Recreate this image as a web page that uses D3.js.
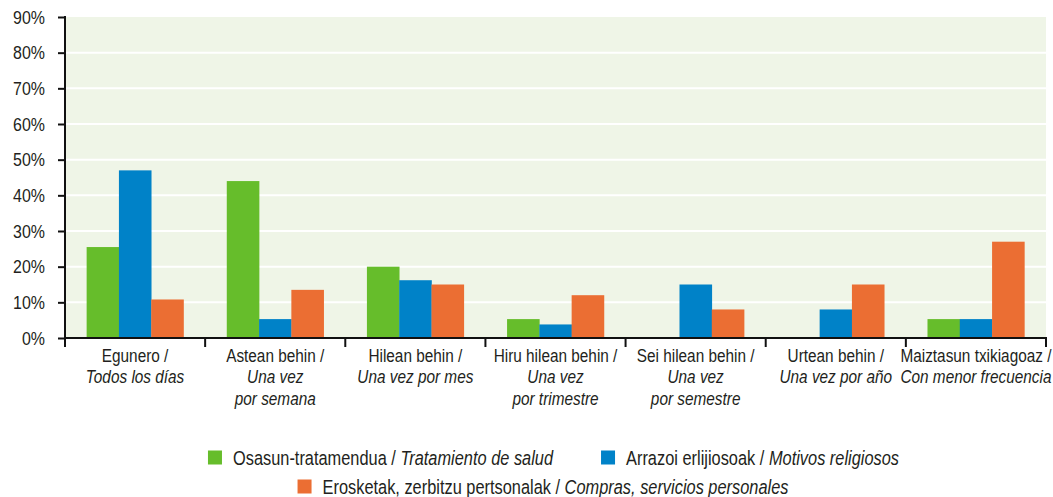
<!DOCTYPE html>
<html>
<head>
<meta charset="utf-8">
<script src="https://cdn.jsdelivr.net/npm/d3@7"></script>
<style>
  html, body { margin: 0; padding: 0; background: #fff; }
  svg { display: block; }
  text { font-family: "Liberation Sans", Arial, sans-serif; fill: #231f20; }
</style>
</head>
<body>
<svg id="chart" width="1053" height="497"></svg>
<script>
// Frequency categories: Basque line, then Spanish (italic) lines
const catEu = ["Egunero /", "Astean behin /", "Hilean behin /", "Hiru hilean behin /",
               "Sei hilean behin /", "Urtean behin /", "Maiztasun txikiagoaz /"];
const catEs = [["Todos los días"], ["Una vez", "por semana"], ["Una vez por mes"],
               ["Una vez", "por trimestre"], ["Una vez", "por semestre"],
               ["Una vez por año"], ["Con menor frecuencia"]];

// Series (percent of respondents)
const seriesKeys = ["salud", "religiosos", "compras"];
const seriesEu = ["Osasun-tratamendua / ", "Arrazoi erlijiosoak / ", "Erosketak, zerbitzu pertsonalak / "];
const seriesEs = ["Tratamiento de salud", "Motivos religiosos", "Compras, servicios personales"];
const seriesColors = ["#66bd2b", "#0082c8", "#eb6e33"];

const salud      = [25.5, 44, 20, 5.3, 0, 0, 5.3];
const religiosos = [47, 5.3, 16.2, 3.8, 15, 8, 5.3];
const compras    = [10.8, 13.5, 15, 12, 8, 15, 27];

const yTicks = [0, 10, 20, 30, 40, 50, 60, 70, 80, 90];

const seriesValues = [salud, religiosos, compras];

// narrow look: regular sans squeezed horizontally
const SX = 0.84;
const FS_TICK = 19, FS_CAT = 18.3, FS_LEG = 19.5;

const svg = d3.select("#chart");
const plotLeft = 65, plotRight = 1046, plotTop = 17, plotBottom = 338;

const x0 = d3.scaleBand().domain(d3.range(catEu.length)).range([plotLeft, plotRight]).padding(0);
const x1 = d3.scaleBand().domain(seriesKeys).range([0, x0.bandwidth()])
  .paddingInner(0).paddingOuter(0.67);
const y = d3.scaleLinear().domain([0, 90]).range([plotBottom, plotTop]);

// plot background
svg.append("rect")
  .attr("x", plotLeft).attr("y", y(90))
  .attr("width", plotRight - plotLeft).attr("height", y(0) - y(90))
  .attr("fill", "#eff5e7");

// white gridlines
svg.append("g").selectAll("line")
  .data(yTicks.filter(d => d > 0 && d < 90))
  .join("line")
  .attr("x1", plotLeft).attr("x2", plotRight)
  .attr("y1", d => y(d)).attr("y2", d => y(d))
  .attr("stroke", "#fff").attr("stroke-width", 2);

// bars
const groups = svg.append("g").selectAll("g")
  .data(d3.range(catEu.length))
  .join("g")
  .attr("transform", i => `translate(${x0(i)},0)`);

groups.selectAll("rect")
  .data(i => seriesKeys.map((k, s) => ({ k, s, v: seriesValues[s][i] })))
  .join("rect")
  .attr("x", d => x1(d.k))
  .attr("width", x1.bandwidth() + 0.3)
  .attr("y", d => y(d.v))
  .attr("height", d => y(0) - y(d.v))
  .attr("fill", d => seriesColors[d.s]);

// y axis
const yAxis = d3.axisLeft(y).tickValues(yTicks).tickFormat(d => d + "%")
  .tickSize(7).tickSizeOuter(0).tickPadding(13);
const gy = svg.append("g").attr("transform", `translate(${plotLeft},0)`).call(yAxis);
gy.attr("font-family", null).attr("font-size", null);
gy.select(".domain").remove();
gy.selectAll(".tick line").attr("stroke", "#111").attr("stroke-width", 2);
gy.selectAll(".tick text")
  .attr("font-size", FS_TICK).attr("fill", "#231f20")
  .attr("x", 0).attr("transform", `translate(-20,0) scale(${SX},1)`);
svg.append("line")
  .attr("x1", plotLeft).attr("x2", plotLeft).attr("y1", y(90) - 1).attr("y2", plotBottom + 9)
  .attr("stroke", "#111").attr("stroke-width", 2);

// x axis line and category boundary ticks
svg.append("line")
  .attr("x1", plotLeft).attr("x2", plotRight + 1).attr("y1", y(0)).attr("y2", y(0))
  .attr("stroke", "#111").attr("stroke-width", 2);
const bounds = x0.domain().map(i => x0(i)).concat([plotRight]).slice(1);
svg.append("g").selectAll("line").data(bounds).join("line")
  .attr("x1", d => d).attr("x2", d => d)
  .attr("y1", y(0)).attr("y2", y(0) + 9)
  .attr("stroke", "#111").attr("stroke-width", 2);

// category labels
const labels = svg.append("g").selectAll("text")
  .data(d3.range(catEu.length))
  .join("text")
  .attr("text-anchor", "middle")
  .attr("font-size", FS_CAT)
  .attr("transform", i => `translate(${x0(i) + x0.bandwidth() / 2},362) scale(${SX},1)`);
labels.append("tspan").attr("x", 0).attr("y", 0).text(i => catEu[i]);
labels.each(function (i) {
  const t = d3.select(this);
  catEs[i].forEach((line, j) => {
    t.append("tspan").attr("x", 0).attr("y", 21.5 * (j + 1))
      .attr("font-style", "italic").text(line);
  });
});

// legend
const legendRows = [[0, 1], [2]];
const rowY = [457.5, 486.5];
const rowCenter = [553.5, 543];
legendRows.forEach((row, r) => {
  const g = svg.append("g");
  let xPos = 0;
  row.forEach((s, idx) => {
    if (idx > 0) xPos += 48;
    const item = g.append("g").attr("transform", `translate(${xPos},0)`);
    item.append("rect").attr("x", 0).attr("y", rowY[r] - 7)
      .attr("width", 14).attr("height", 14).attr("fill", seriesColors[s]);
    const t = item.append("text")
      .attr("transform", `translate(25,${rowY[r] + 7}) scale(${SX},1)`)
      .attr("font-size", FS_LEG);
    t.append("tspan").text(seriesEu[s]);
    t.append("tspan").attr("font-style", "italic").text(seriesEs[s]);
    xPos += 25 + t.node().getComputedTextLength() * SX;
  });
  g.attr("transform", `translate(${rowCenter[r] - xPos / 2},0)`);
});
</script>
</body>
</html>
